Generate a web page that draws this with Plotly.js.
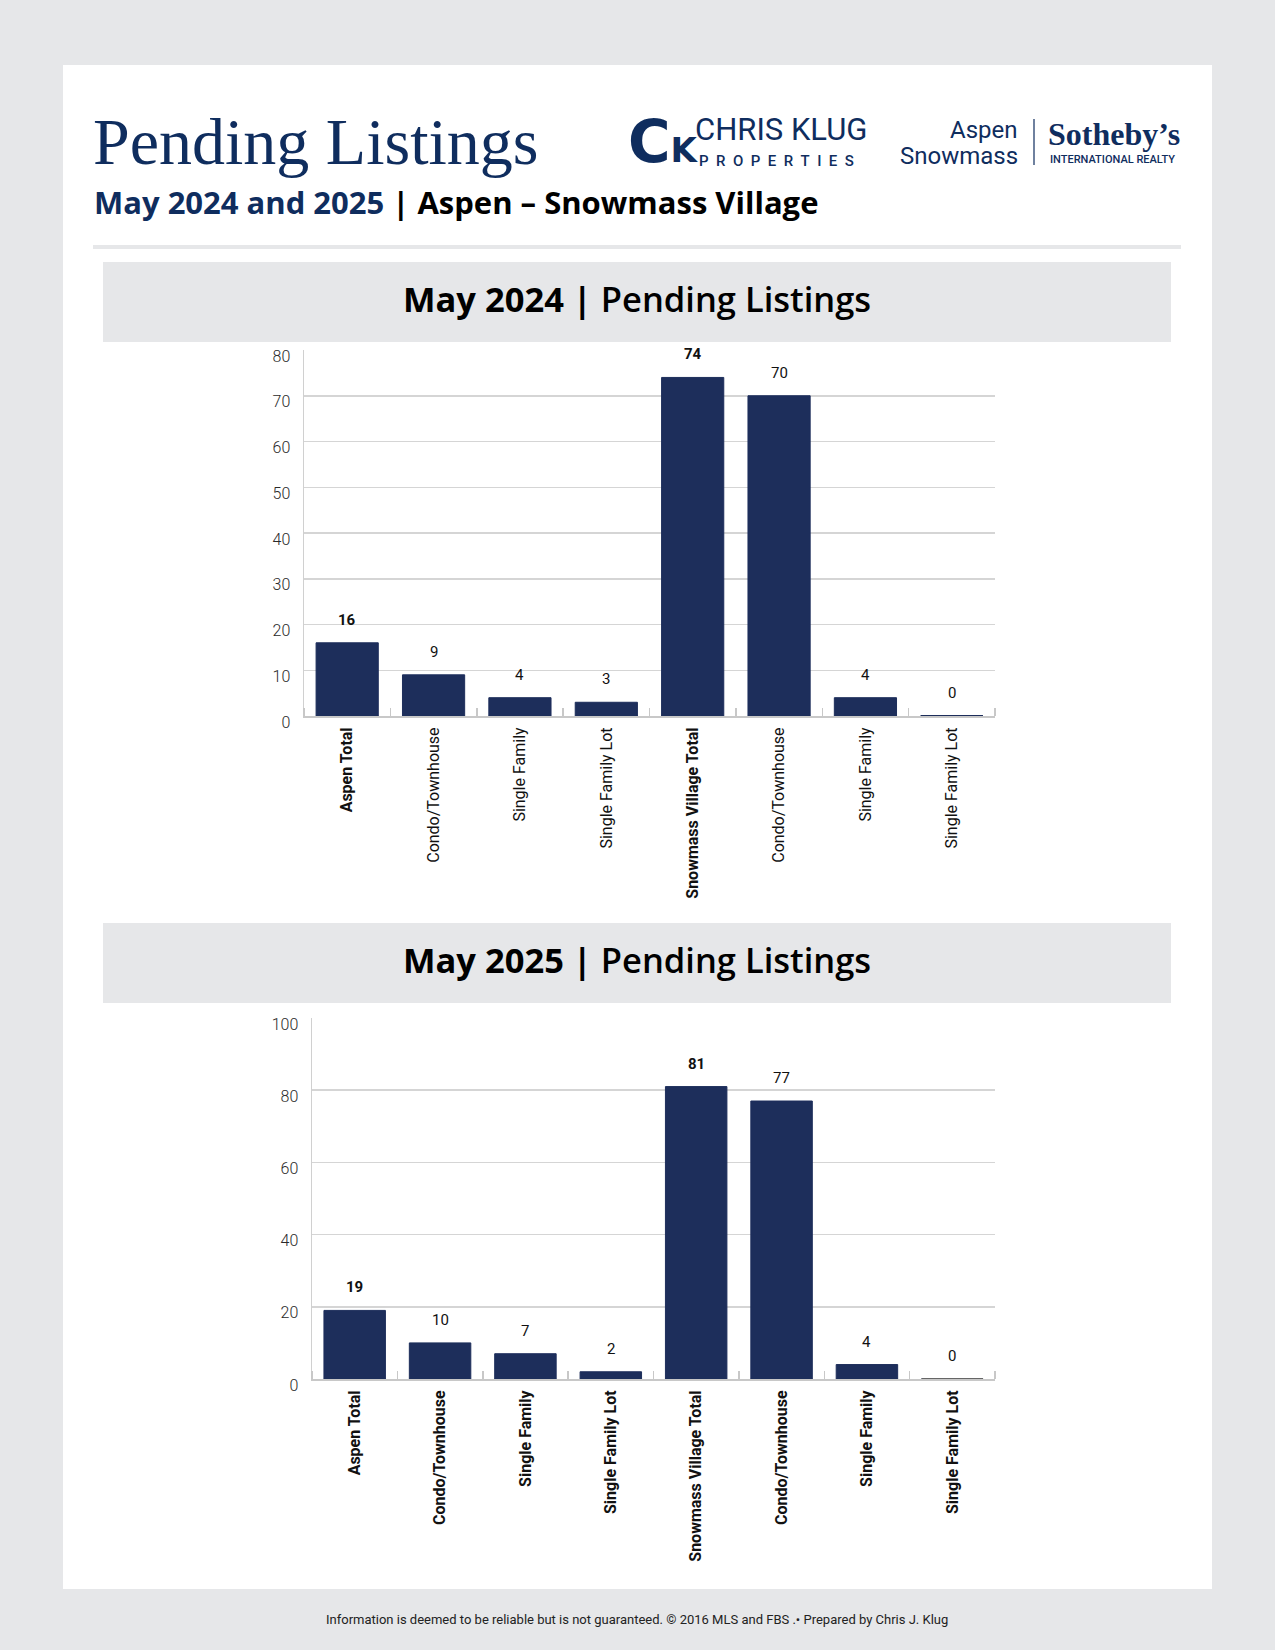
<!DOCTYPE html>
<html>
<head>
<meta charset="utf-8">
<script src="https://cdn.plot.ly/plotly-3.0.1.min.js"></script>
<style>
  html, body { margin: 0; padding: 0; background: #e6e7e9; }
  #chart { width: 1275px; height: 1650px; }
</style>
</head>
<body>
<div id="chart"></div>
<script>
// ---------- DATA ----------
const categories = ['Aspen Total', 'Condo/Townhouse', 'Single Family', 'Single Family Lot',
                    'Snowmass Village Total', 'Condo/Townhouse', 'Single Family', 'Single Family Lot'];
const isTotal = [true, false, false, false, true, false, false, false];
const values2024 = [16, 9, 4, 3, 74, 70, 4, 0];
const values2025 = [19, 10, 7, 2, 81, 77, 4, 0];
const yTicks2024 = [0, 10, 20, 30, 40, 50, 60, 70, 80];
const yTicks2025 = [0, 20, 40, 60, 80, 100];
const chartTitle = 'Pending Listings';
const subtitleA = 'May 2024 and 2025';
const subtitleB = ' | Aspen \u2013 Snowmass Village';
const header2024 = 'May 2024 |';
const header2025 = 'May 2025 |';
const headerRest = ' Pending Listings';
const footerText = 'Information is deemed to be reliable but is not guaranteed. \u00A9 2016 MLS and FBS .\u2022 Prepared by Chris J. Klug';

// ---------- HELPERS ----------
const W = 1275, H = 1650;
const px = x => x / W;
const py = y => 1 - y / H;
const NAVY = '#1d2e5b';
const TITLE_NAVY = '#0f2d5e';
const GRAY_BG = '#e6e7e9';
const idx = categories.map((_, i) => i);

const tickText2024 = categories.map((c, i) => isTotal[i] ? '<b>' + c + '</b>' : c);
const tickText2025 = categories.map(c => '<b>' + c + '</b>');

function barTrace(vals, xa, ya) {
  return {
    type: 'bar', x: idx, y: vals, xaxis: xa, yaxis: ya,
    marker: { color: NAVY, line: { color: NAVY, width: 1 } },
    width: 0.72, hoverinfo: 'skip', showlegend: false
  };
}

function valueAnnotations(vals, xa, ya) {
  return vals.map((v, i) => ({
    x: i, y: v, xref: xa, yref: ya,
    text: isTotal[i] ? '<b>' + v + '</b>' : String(v),
    showarrow: false, xanchor: 'center', yanchor: 'bottom', yshift: 12,
    font: { family: 'Roboto', size: 15, color: '#111' }
  }));
}

function zeroShapes(vals, xa, ya, color) {
  const out = [];
  vals.forEach((v, i) => {
    if (v === 0) out.push({ type: 'line', xref: xa, yref: ya, x0: i - 0.36, x1: i + 0.36, y0: 0, y1: 0,
                            line: { color: color, width: 2 }, layer: 'above' });
  });
  return out;
}

function xAxis(domain, tickText, anchor) {
  return {
    domain: domain, anchor: anchor, range: [-0.5, categories.length - 0.5],
    tickmode: 'array', tickvals: idx, ticktext: tickText, tickangle: -90,
    ticks: '', showgrid: false, zeroline: false,
    showline: true, linecolor: '#c8c8c8', linewidth: 2,
    tickfont: { family: 'Roboto', size: 16, color: '#111' },
    ticklabelstandoff: 3,
    minor: { tickmode: 'linear', tick0: 0.5, dtick: 1, ticks: 'inside', ticklen: 8, tickwidth: 1.5,
             tickcolor: '#c8c8c8', showgrid: false },
    fixedrange: true
  };
}

function yAxis(domain, ticks, anchor) {
  return {
    domain: domain, anchor: anchor, range: [0, ticks[ticks.length - 1]],
    tickmode: 'array', tickvals: ticks, ticktext: ticks.map(String),
    ticks: '', showgrid: true, gridcolor: '#d5d5d5', gridwidth: 1.5,
    zeroline: false, showline: true, linecolor: '#d0d0d0', linewidth: 1.5,
    tickfont: { family: 'Roboto', size: 16, color: '#2a2a2a', weight: 300 },
    ticklabelstandoff: 9, ticklabelshift: 6,
    fixedrange: true
  };
}

// ---------- LAYOUT ----------
const shapes = [
  { type: 'rect', xref: 'paper', yref: 'paper', x0: px(63), x1: px(1212), y0: py(65), y1: py(1589),
    fillcolor: '#ffffff', line: { width: 0 }, layer: 'below' },
  { type: 'rect', xref: 'paper', yref: 'paper', x0: px(93), x1: px(1181), y0: py(245), y1: py(249),
    fillcolor: GRAY_BG, line: { width: 0 }, layer: 'below' },
  { type: 'rect', xref: 'paper', yref: 'paper', x0: px(103), x1: px(1171), y0: py(262), y1: py(342),
    fillcolor: GRAY_BG, line: { width: 0 }, layer: 'below' },
  { type: 'rect', xref: 'paper', yref: 'paper', x0: px(103), x1: px(1171), y0: py(923), y1: py(1003),
    fillcolor: GRAY_BG, line: { width: 0 }, layer: 'below' },
  // Sotheby's divider
  { type: 'line', xref: 'paper', yref: 'paper', x0: px(1034), x1: px(1034), y0: py(119), y1: py(165),
    line: { color: TITLE_NAVY, width: 1.2 }, layer: 'below' }
].concat(zeroShapes(values2024, 'x', 'y', NAVY), zeroShapes(values2025, 'x2', 'y2', '#666'));

function paperText(text, x, y, size, opts) {
  return Object.assign({
    xref: 'paper', yref: 'paper', x: px(x), y: py(y), text: text, showarrow: false,
    xanchor: 'left', yanchor: 'middle',
    font: { family: 'Roboto', size: size, color: '#000' }
  }, opts || {});
}

const annotations = [
  paperText(chartTitle, 91, 141, 66, { font: { family: 'Liberation Serif, Times New Roman, serif', size: 66, color: TITLE_NAVY } }),
  paperText('<span style="color:' + TITLE_NAVY + '">' + subtitleA + '</span>' + subtitleB, 92, 202, 31,
            { font: { family: 'Open Sans', size: 31, color: '#000', weight: 700 } }),
  // Chris Klug logo (monogram + wordmark)
  paperText('<b><span style="font-size:58px">C</span><span style="font-size:34px">K</span></b>', 626, 142, 58,
            { font: { family: 'DejaVu Sans', size: 58, color: TITLE_NAVY } }),
  paperText('CHRIS KLUG', 693, 130, 31, { font: { family: 'Roboto', size: 31, color: TITLE_NAVY, weight: 400 } }),
  paperText('P\u00A0\u00A0R\u00A0\u00A0O\u00A0\u00A0P\u00A0\u00A0E\u00A0\u00A0R\u00A0\u00A0T\u00A0\u00A0I\u00A0\u00A0E\u00A0\u00A0S', 697, 161, 15,
            { font: { family: 'Roboto', size: 15, color: TITLE_NAVY, weight: 500 } }),
  // Aspen Snowmass Sotheby's
  paperText('Aspen', 1020, 130, 24, { xanchor: 'right', font: { family: 'Roboto', size: 24, color: TITLE_NAVY } }),
  paperText('Snowmass', 1020, 156, 24, { xanchor: 'right', font: { family: 'Roboto', size: 24, color: TITLE_NAVY } }),
  paperText('<b>Sotheby\u2019s</b>', 1046, 134, 32, { font: { family: 'Liberation Serif, serif', size: 32, color: TITLE_NAVY } }),
  paperText('INTERNATIONAL REALTY', 1048, 160, 11, { font: { family: 'Roboto', size: 11, color: TITLE_NAVY, weight: 500 } }),
  // Section headers
  paperText('<b>' + header2024 + '</b>' + headerRest, 637, 298, 34.5,
            { xanchor: 'center', font: { family: 'Open Sans', size: 34.5, color: '#000', weight: 600 } }),
  paperText('<b>' + header2025 + '</b>' + headerRest, 637, 959, 34.5,
            { xanchor: 'center', font: { family: 'Open Sans', size: 34.5, color: '#000', weight: 600 } }),
  // Footer
  paperText(footerText, 637, 1619, 13, { xanchor: 'center', font: { family: 'Roboto', size: 13, color: '#222' } })
].concat(valueAnnotations(values2024, 'x', 'y'), valueAnnotations(values2025, 'x2', 'y2'));

const layout = {
  width: W, height: H,
  margin: { l: 0, r: 0, t: 0, b: 0 },
  paper_bgcolor: GRAY_BG, plot_bgcolor: 'rgba(0,0,0,0)',
  font: { family: 'Roboto', color: '#222' },
  bargap: 0.28,
  showlegend: false,
  xaxis: xAxis([px(304), px(995)], tickText2024, 'y'),
  yaxis: yAxis([py(716), py(350)], yTicks2024, 'x'),
  xaxis2: xAxis([px(312), px(995)], tickText2025, 'y2'),
  yaxis2: yAxis([py(1379), py(1018)], yTicks2025, 'x2'),
  shapes: shapes,
  annotations: annotations
};

Plotly.newPlot('chart', [barTrace(values2024, 'x', 'y'), barTrace(values2025, 'x2', 'y2')], layout,
               { displayModeBar: false, staticPlot: true });
</script>
</body>
</html>
